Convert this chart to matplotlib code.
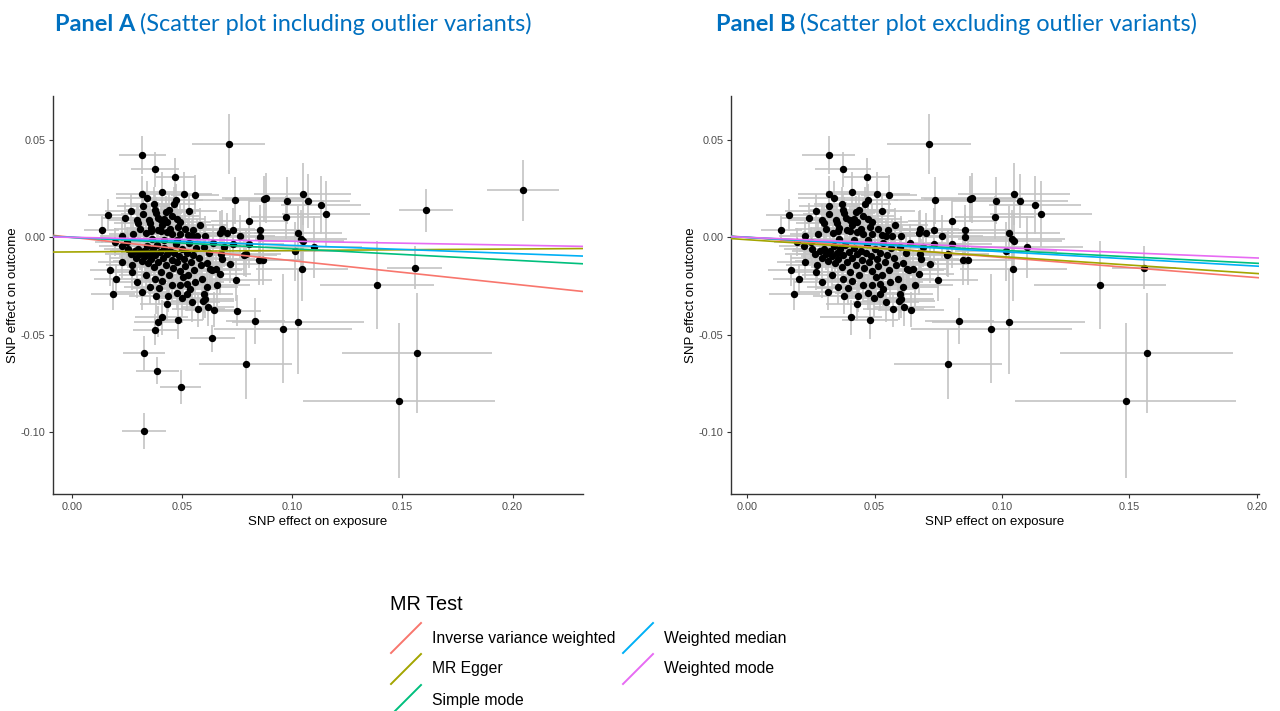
import numpy as np
import matplotlib
matplotlib.use("Agg")
import matplotlib.pyplot as plt
from matplotlib.lines import Line2D

plt.rcParams['axes.unicode_minus'] = False

# SNP effects on exposure / outcome with standard errors
beta_exp = [
    0.032, 0.0376, 0.0712, 0.047, 0.032, 0.041, 0.0508, 0.0558, 0.034, 0.0473,
    0.0464, 0.0738, 0.0873, 0.0882, 0.0975, 0.1047, 0.107, 0.113, 0.1152, 0.0974,
    0.0165, 0.027, 0.0242, 0.0323, 0.0373, 0.0376, 0.0427, 0.0439, 0.0321, 0.0294,
    0.0348, 0.0353, 0.039, 0.0405, 0.0418, 0.0433, 0.0476, 0.0491, 0.0359, 0.0309,
    0.0445, 0.0483, 0.0512, 0.0135, 0.0227, 0.0279, 0.0336, 0.0358, 0.0392, 0.0403,
    0.0433, 0.0453, 0.0491, 0.0551, 0.0544, 0.0567, 0.0605, 0.068, 0.0673, 0.0703,
    0.0733, 0.0803, 0.0764, 0.0855, 0.0855, 0.1026, 0.1039, 0.1047, 0.1097, 0.1014,
    0.1044, 0.0848, 0.0868, 0.079, 0.0783, 0.0802, 0.0732, 0.0718, 0.0747, 0.0677,
    0.0682, 0.0673, 0.0612, 0.0634, 0.0652, 0.0612, 0.0658, 0.06, 0.0597, 0.0644,
    0.0617, 0.075, 0.0833, 0.0958, 0.1026, 0.0788, 0.1385, 0.1556, 0.1606, 0.2048,
    0.1567, 0.1485, 0.0638, 0.0326, 0.0388, 0.0495, 0.0326, 0.0377, 0.0392, 0.0408,
    0.0483, 0.0574, 0.0195, 0.0173, 0.0202, 0.0185, 0.0229, 0.0274, 0.0271, 0.0317,
    0.038, 0.0376, 0.041, 0.0435, 0.043, 0.0476, 0.0491, 0.0498, 0.0521, 0.0521,
    0.0529, 0.0544, 0.0605, 0.0627, 0.0225, 0.0255, 0.0268, 0.0285, 0.0292, 0.0302,
    0.031, 0.0318, 0.0325, 0.0333, 0.034, 0.0345, 0.0352, 0.0358, 0.0366, 0.0371,
    0.0378, 0.0385, 0.0392, 0.0398, 0.0405, 0.0412, 0.0419, 0.0426, 0.0432, 0.044,
    0.0446, 0.0452, 0.0458, 0.0465, 0.0471, 0.0478, 0.0485, 0.0492, 0.05, 0.0508,
    0.0515, 0.0523, 0.0532, 0.054, 0.0548, 0.0556, 0.0565, 0.0575, 0.0585, 0.0592,
    0.0598, 0.056, 0.0535, 0.0455, 0.0395, 0.0335, 0.0295, 0.025, 0.0362, 0.0418,
    0.0475, 0.0528, 0.064, 0.0622, 0.069, 0.058, 0.041, 0.03, 0.038, 0.0455,
    0.053, 0.0505, 0.0355,
]
beta_out = [
    0.0425, 0.035, 0.048, 0.031, 0.0225, 0.0234, 0.0225, 0.022, 0.0201, 0.0194,
    0.017, 0.019, 0.0197, 0.0203, 0.0189, 0.0222, 0.0186, 0.0168, 0.0122, 0.0103,
    0.0115, 0.0134, 0.0099, 0.0161, 0.017, 0.0143, 0.0132, 0.0139, 0.0122, 0.0091,
    0.0091, 0.0074, 0.0102, 0.0091, 0.0094, 0.0077, 0.0096, 0.0079, 0.0048, 0.0043,
    0.0045, 0.0053, 0.0045, 0.004, 0.0009, 0.0019, 0.0022, 0.0031, 0.0036, 0.0031,
    0.0027, 0.0015, 0.0015, 0.004, 0.0009, 0.0005, 0.0009, 0.0041, 0.0024, 0.0024,
    0.004, 0.0084, 0.0005, 0.0036, 0.0002, 0.0022, -0.001, -0.002, -0.0048, -0.0072,
    -0.0165, -0.0115, -0.0117, -0.0084, -0.009, -0.0036, -0.0033, -0.0136, -0.0218, -0.0084,
    -0.011, -0.0187, -0.013, -0.0168, -0.0165, -0.0256, -0.0244, -0.029, -0.0325, -0.0373,
    -0.0358, -0.0378, -0.043, -0.047, -0.0433, -0.0651, -0.0244, -0.0156, 0.0139, 0.0242,
    -0.0594, -0.084, -0.052, -0.0594, -0.0686, -0.077, -0.0995, -0.0474, -0.0433, -0.0411,
    -0.0424, -0.0371, -0.0024, -0.017, -0.0216, -0.0292, -0.0127, -0.0144, -0.0179, -0.0282,
    -0.0302, -0.0216, -0.0225, -0.0302, -0.0342, -0.0285, -0.0247, -0.031, -0.029, -0.0239,
    -0.0196, -0.0335, -0.0316, -0.0161, -0.0045, -0.0062, -0.0085, -0.0072, -0.0105, -0.0058,
    -0.0088, -0.0121, -0.0069, -0.0098, -0.0045, -0.0132, -0.008, -0.011, -0.0062, -0.0155,
    -0.0093, -0.004, -0.0125, -0.0075, -0.0178, -0.0105, -0.0055, -0.014, -0.0088, -0.0195,
    -0.0068, -0.0118, -0.016, -0.0082, -0.0035, -0.0128, -0.0098, -0.0172, -0.006, -0.0112,
    -0.0145, -0.0078, -0.003, -0.0125, -0.009, -0.017, -0.0055, -0.0105, -0.014, -0.0215,
    -0.0048, -0.023, -0.0265, -0.0245, -0.026, -0.0195, -0.023, -0.0025, -0.0008, -0.0015,
    -0.0012, 0.001, -0.003, -0.008, -0.005, 0.0062, 0.0062, 0.0075, 0.0125, 0.011,
    0.0135, -0.0205, -0.0255,
]
se_exp = [
    0.0105, 0.011, 0.0165, 0.009, 0.012, 0.010, 0.013, 0.011, 0.014, 0.012,
    0.010, 0.016, 0.018, 0.020, 0.017, 0.022, 0.019, 0.018, 0.020, 0.016,
    0.009, 0.012, 0.011, 0.012, 0.011, 0.013, 0.012, 0.014, 0.010, 0.013,
    0.011, 0.012, 0.012, 0.013, 0.011, 0.012, 0.013, 0.014, 0.011, 0.012,
    0.012, 0.013, 0.012, 0.008, 0.010, 0.011, 0.012, 0.011, 0.013, 0.012,
    0.011, 0.013, 0.012, 0.014, 0.013, 0.012, 0.014, 0.015, 0.014, 0.016,
    0.015, 0.017, 0.016, 0.018, 0.017, 0.020, 0.021, 0.019, 0.022, 0.020,
    0.021, 0.017, 0.018, 0.016, 0.015, 0.016, 0.015, 0.015, 0.016, 0.014,
    0.015, 0.014, 0.013, 0.014, 0.013, 0.014, 0.015, 0.013, 0.014, 0.013,
    0.012, 0.0107, 0.0134, 0.0315, 0.030, 0.021, 0.026, 0.0126, 0.0123, 0.0163,
    0.034, 0.0434, 0.010, 0.0095, 0.0096, 0.0093, 0.010, 0.010, 0.011, 0.012,
    0.011, 0.012, 0.009, 0.009, 0.010, 0.010, 0.011, 0.012, 0.011, 0.012,
    0.012, 0.011, 0.012, 0.011, 0.012, 0.013, 0.012, 0.012, 0.013, 0.013,
    0.012, 0.013, 0.013, 0.013, 0.010, 0.011, 0.012, 0.011, 0.012, 0.012,
    0.011, 0.013, 0.012, 0.012, 0.011, 0.012, 0.013, 0.012, 0.011, 0.012,
    0.013, 0.012, 0.012, 0.011, 0.013, 0.012, 0.013, 0.012, 0.012, 0.013,
    0.012, 0.013, 0.012, 0.013, 0.012, 0.013, 0.012, 0.013, 0.012, 0.013,
    0.013, 0.012, 0.013, 0.013, 0.012, 0.014, 0.013, 0.014, 0.013, 0.014,
    0.013, 0.013, 0.013, 0.012, 0.012, 0.012, 0.011, 0.010, 0.012, 0.012,
    0.013, 0.013, 0.014, 0.014, 0.015, 0.013, 0.012, 0.011, 0.012, 0.012,
    0.013, 0.013, 0.012,
]
se_out = [
    0.0098, 0.009, 0.0153, 0.010, 0.009, 0.010, 0.011, 0.010, 0.009, 0.008,
    0.009, 0.012, 0.012, 0.013, 0.012, 0.016, 0.014, 0.015, 0.017, 0.011,
    0.008, 0.009, 0.008, 0.008, 0.009, 0.008, 0.008, 0.009, 0.007, 0.008,
    0.007, 0.008, 0.008, 0.007, 0.008, 0.009, 0.008, 0.009, 0.007, 0.008,
    0.008, 0.007, 0.008, 0.007, 0.008, 0.007, 0.008, 0.007, 0.008, 0.009,
    0.008, 0.008, 0.007, 0.009, 0.008, 0.009, 0.010, 0.010, 0.011, 0.010,
    0.011, 0.012, 0.011, 0.013, 0.012, 0.014, 0.015, 0.014, 0.016, 0.015,
    0.016, 0.013, 0.013, 0.012, 0.011, 0.012, 0.011, 0.010, 0.011, 0.010,
    0.010, 0.011, 0.010, 0.009, 0.010, 0.010, 0.011, 0.010, 0.010, 0.009,
    0.010, 0.008, 0.012, 0.028, 0.027, 0.018, 0.0226, 0.011, 0.0112, 0.0157,
    0.031, 0.040, 0.007, 0.0086, 0.007, 0.0087, 0.0091, 0.008, 0.008, 0.009,
    0.010, 0.009, 0.007, 0.008, 0.008, 0.008, 0.008, 0.008, 0.009, 0.009,
    0.009, 0.008, 0.009, 0.008, 0.009, 0.009, 0.009, 0.010, 0.009, 0.010,
    0.009, 0.010, 0.010, 0.010, 0.008, 0.008, 0.008, 0.007, 0.009, 0.008,
    0.008, 0.009, 0.008, 0.008, 0.007, 0.009, 0.008, 0.009, 0.008, 0.009,
    0.008, 0.007, 0.009, 0.008, 0.009, 0.008, 0.008, 0.009, 0.008, 0.010,
    0.008, 0.009, 0.009, 0.008, 0.008, 0.009, 0.008, 0.010, 0.008, 0.009,
    0.009, 0.008, 0.009, 0.009, 0.008, 0.010, 0.009, 0.009, 0.010, 0.010,
    0.009, 0.010, 0.009, 0.009, 0.009, 0.008, 0.008, 0.008, 0.008, 0.008,
    0.008, 0.009, 0.010, 0.010, 0.010, 0.009, 0.008, 0.008, 0.008, 0.009,
    0.009, 0.009, 0.009,
]
# variants dropped in the second panel (0-based)
outlier_idx = [91, 98, 99, 102, 103, 104, 105, 106, 107, 108]

methods = ["Inverse variance weighted", "MR Egger", "Simple mode",
           "Weighted median", "Weighted mode"]
method_colors = ["#F8766D", "#A3A500", "#00BF7D", "#00B0F6", "#E76BF3"]

# (intercept, slope) per method
fit_all = [(0.0, -0.120), (-0.0075, 0.0075), (0.0, -0.0586), (0.0, -0.0415), (0.0, -0.020)]
fit_clean = [(0.0, -0.1035), (-0.0012, -0.087), (0.0, -0.0667), (0.0, -0.074), (0.0, -0.053)]

W, H = 1280, 711
fig = plt.figure(figsize=(W / 100, H / 100), dpi=100)


def fx(px):
    return px / W


def fy(py):
    return 1 - py / H


def scatter_panel(ax, bx, by, sx, sy, fits, xlim, xticks):
    bx, by, sx, sy = map(np.asarray, (bx, by, sx, sy))
    ax.errorbar(bx, by, xerr=sx, yerr=sy, fmt='none', ecolor='#C4C4C4',
                elinewidth=1.2, capsize=0, zorder=1)
    ax.scatter(bx, by, s=28, color='black', zorder=2, linewidths=0)
    for (a, b), col in zip(fits, method_colors):
        ax.axline((0, a), slope=b, color=col, lw=1.2, zorder=3)
    ax.set_xlim(*xlim)
    ax.set_ylim(-0.132, 0.0727)
    ax.set_xticks(xticks)
    ax.set_xticklabels([f"{t:.2f}" for t in xticks])
    ax.set_yticks([-0.10, -0.05, 0.0, 0.05])
    ax.set_yticklabels(["-0.10", "-0.05", "0.00", "0.05"])
    for s in ['top', 'right']:
        ax.spines[s].set_visible(False)
    for s in ['left', 'bottom']:
        ax.spines[s].set_color('#333333')
        ax.spines[s].set_linewidth(1.0)
    ax.tick_params(axis='both', length=3, width=0.8, color='#333333',
                   labelsize=7.8, labelcolor='#4D4D4D', pad=2.5)
    for lab in ax.get_xticklabels() + ax.get_yticklabels():
        lab.set_family('Liberation Sans')
    ax.set_xlabel("SNP effect on exposure", fontsize=9.5, family='Liberation Sans', labelpad=3)
    ax.set_ylabel("SNP effect on outcome", fontsize=9.5, family='Liberation Sans', labelpad=1)


keep = [i for i in range(len(beta_exp)) if i not in outlier_idx]

axA = fig.add_axes([fx(53), fy(494), fx(583) - fx(53), fy(96) - fy(494)])
scatter_panel(axA, beta_exp, beta_out, se_exp, se_out, fit_all,
              (-0.0086, 0.232), [0.0, 0.05, 0.10, 0.15, 0.20])

axB = fig.add_axes([fx(731), fy(494), fx(1259) - fx(731), fy(96) - fy(494)])
scatter_panel(axB, [beta_exp[i] for i in keep], [beta_out[i] for i in keep],
              [se_exp[i] for i in keep], [se_out[i] for i in keep], fit_clean,
              (-0.0063, 0.2008), [0.0, 0.05, 0.10, 0.15, 0.20])

# panel headings: bold tag followed by a plain description
blue = '#0070C0'
renderer = fig.canvas.get_renderer()
for x0, tag, desc in [(55, "Panel A", "(Scatter plot including outlier variants)"),
                      (716, "Panel B", "(Scatter plot excluding outlier variants)")]:
    t = fig.text(fx(x0), fy(31), tag, color=blue, fontsize=16.9, fontweight='bold',
                 family='Lato', va='baseline')
    bb = t.get_window_extent(renderer)
    fig.text(fx(bb.x1 + 5), fy(31), desc, color=blue, fontsize=16.9,
             family='Lato', va='baseline')

# legend for the fitted MR lines
fig.text(fx(390), fy(604), "MR Test", fontsize=14.3, family='Liberation Sans', va='center')
rows = [638, 669, 700]
slots = [(391, rows[0]), (391, rows[1]), (391, rows[2]), (623, rows[0]), (623, rows[1])]
for (kx, ky), name, col in zip(slots, methods, method_colors):
    fig.add_artist(Line2D([fx(kx), fx(kx + 30)], [fy(ky + 15), fy(ky - 15)],
                          color=col, lw=1.4, transform=fig.transFigure))
    fig.text(fx(kx + 41), fy(ky), name, fontsize=11.3, family='Liberation Sans', va='center')

fig.savefig("out.png", dpi=100)
